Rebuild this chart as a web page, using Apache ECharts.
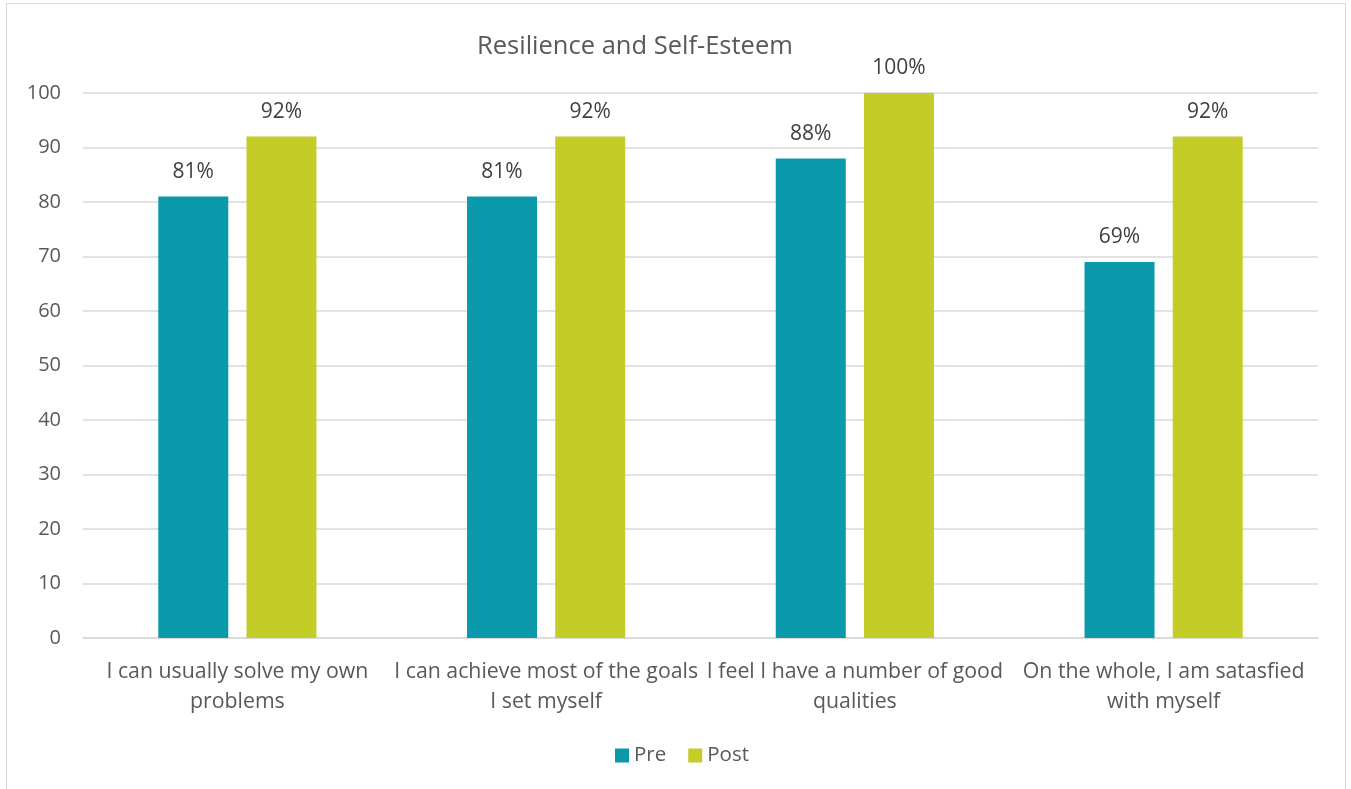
<!DOCTYPE html>
<html>
<head>
<meta charset="utf-8">
<script src="https://cdn.jsdelivr.net/npm/echarts@6/dist/echarts.min.js"></script>
<style>
  html, body { margin: 0; padding: 0; background: #fff; }
  #frame { position: absolute; left: 6px; top: 3px; width: 1340px; height: 800px; border: 1px solid #d9d9d9; box-sizing: border-box; }
  #chart { position: absolute; left: 0; top: 0; width: 1351px; height: 789px; }
</style>
</head>
<body>
<div id="frame"></div>
<div id="chart"></div>
<script>
// Survey statements (x axis)
const categories = [
  'I can usually solve my own\nproblems',
  'I can achieve most of the goals\nI set myself',
  'I feel I have a number of good\nqualities',
  'On the whole, I am satasfied\nwith myself'
];
// Percentage agreeing before and after the programme
const preValues = [81, 81, 88, 69];
const postValues = [92, 92, 100, 92];
const yTicks = [0, 10, 20, 30, 40, 50, 60, 70, 80, 90, 100];

const FONT = '"Open Sans", Lato, sans-serif';
const chart = echarts.init(document.getElementById('chart'), null, { renderer: 'canvas' });

const labelStyle = {
  show: true,
  position: 'top',
  distance: 14,
  formatter: p => p.value + '%',
  color: '#404040',
  fontSize: 21,
  fontFamily: FONT
};

chart.setOption({
  animation: false,
  title: {
    text: 'Resilience and Self-Esteem',
    left: 472,
    top: 29,
    textStyle: { color: '#595959', fontSize: 25.5, fontWeight: 'normal', fontFamily: FONT }
  },
  legend: {
    bottom: 18,
    left: 610,
    itemWidth: 14,
    itemHeight: 14,
    itemGap: 22,
    icon: 'rect',
    textStyle: { color: '#595959', fontSize: 20.5, fontFamily: FONT },
    data: ['Pre', 'Post']
  },
  grid: { left: 83, right: 33, top: 93, bottom: 151, containLabel: false },
  xAxis: {
    type: 'category',
    data: categories,
    axisTick: { show: false },
    axisLine: { lineStyle: { color: '#d9d9d9', width: 1.5 } },
    axisLabel: {
      color: '#595959',
      fontSize: 21.3,
      fontFamily: FONT,
      lineHeight: 30,
      margin: 19,
      interval: 0
    }
  },
  yAxis: {
    type: 'value',
    min: yTicks[0],
    max: yTicks[yTicks.length - 1],
    interval: 10,
    axisLine: { show: false },
    axisTick: { show: false },
    splitLine: { lineStyle: { color: '#d9d9d9', width: 1.5 } },
    axisLabel: { color: '#595959', fontSize: 20, fontFamily: FONT, margin: 22 }
  },
  series: [
    {
      name: 'Pre',
      type: 'bar',
      data: preValues,
      barWidth: 70,
      barGap: '26%',
      itemStyle: { color: '#0b9aab' },
      label: labelStyle
    },
    {
      name: 'Post',
      type: 'bar',
      data: postValues,
      barWidth: 70,
      itemStyle: { color: '#c4cc28' },
      label: labelStyle
    }
  ]
});
</script>
</body>
</html>
